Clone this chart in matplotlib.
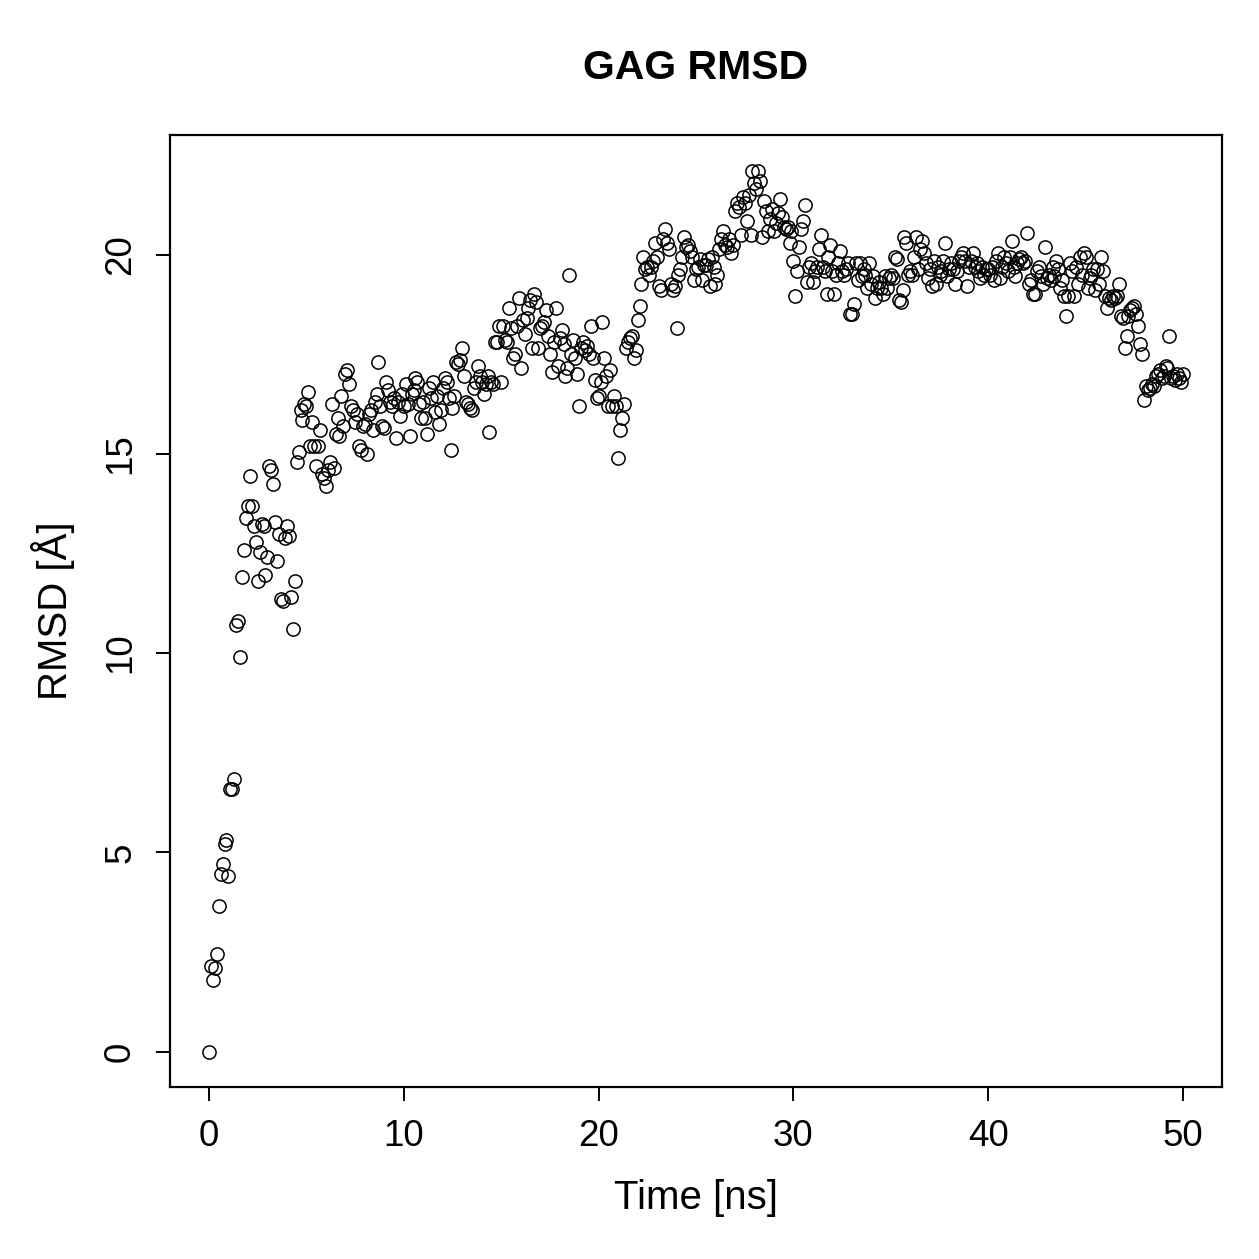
import numpy as np
import matplotlib
matplotlib.use("Agg")
import matplotlib.pyplot as plt

rmsd = [
    0.0, 2.15, 1.8, 2.1, 2.45, 3.65, 4.45, 4.7, 5.2, 5.3,
    4.4, 6.6, 6.6, 6.85, 10.7, 10.8, 9.9, 11.9, 12.6, 13.4,
    13.7, 14.45, 13.7, 13.2, 12.8, 11.8, 12.55, 13.25, 13.2, 11.95,
    12.4, 14.7, 14.6, 14.25, 13.3, 12.3, 13.0, 11.35, 11.3, 12.9,
    13.2, 12.95, 11.4, 10.6, 11.8, 14.8, 15.05, 16.1, 15.85, 16.25,
    16.2, 16.55, 15.2, 15.8, 15.2, 14.7, 15.2, 15.6, 14.5, 14.4,
    14.2, 14.6, 14.8, 16.25, 14.65, 15.5, 15.9, 15.45, 16.45, 15.7,
    17.0, 17.1, 16.75, 16.2, 16.1, 15.8, 16.0, 15.2, 15.1, 15.7,
    15.75, 15.0, 16.0, 16.1, 15.6, 16.3, 16.5, 17.3, 16.2, 15.7,
    15.65, 16.8, 16.6, 16.3, 16.2, 16.4, 15.4, 16.3, 15.95, 16.5,
    16.2, 16.75, 16.25, 15.45, 16.5, 16.6, 16.9, 16.8, 16.25, 15.9,
    16.3, 15.9, 15.5, 16.65, 16.4, 16.8, 16.05, 16.45, 15.75, 16.1,
    16.65, 16.9, 16.8, 16.4, 15.1, 16.15, 16.45, 17.3, 17.25, 17.35,
    17.65, 16.95, 16.3, 16.25, 16.15, 16.1, 16.65, 16.8, 17.2, 16.95,
    16.8, 16.5, 16.75, 16.95, 15.55, 16.8, 16.75, 17.8, 17.8, 18.2,
    16.8, 18.2, 17.85, 17.8, 18.65, 18.15, 17.4, 17.5, 18.2, 18.9,
    17.15, 18.35, 18.0, 18.4, 18.65, 18.85, 17.65, 19.0, 18.8, 17.65,
    18.15, 18.2, 18.3, 18.6, 17.95, 17.5, 17.05, 17.8, 18.65, 17.2,
    17.9, 18.1, 17.75, 16.95, 17.15, 19.5, 17.5, 17.85, 17.4, 17.0,
    16.2, 17.65, 17.8, 17.6, 17.7, 17.5, 18.2, 17.4, 16.85, 16.4,
    16.45, 16.8, 18.3, 17.4, 16.95, 16.2, 17.1, 16.2, 16.45, 16.2,
    14.9, 15.6, 15.9, 16.25, 17.65, 17.8, 17.9, 17.95, 17.4, 17.6,
    18.35, 18.7, 19.25, 19.95, 19.65, 19.7, 19.5, 19.7, 19.85, 20.3,
    19.95, 19.2, 19.1, 20.4, 20.65, 20.3, 20.15, 19.25, 19.1, 19.2,
    18.15, 19.5, 19.65, 19.95, 20.45, 20.2, 20.25, 20.1, 19.95, 19.35,
    19.65, 19.7, 19.9, 19.35, 19.75, 19.75, 19.9, 19.2, 19.95, 19.7,
    19.25, 19.5, 20.15, 20.4, 20.6, 20.25, 20.2, 20.4, 20.05, 20.25,
    21.1, 21.3, 21.2, 20.5, 21.45, 21.3, 20.85, 21.5, 20.5, 22.1,
    21.8, 21.65, 22.1, 21.85, 20.45, 21.35, 21.1, 20.6, 20.9, 21.15,
    20.6, 20.8, 21.05, 21.4, 20.95, 20.7, 20.65, 20.7, 20.3, 20.6,
    19.85, 18.95, 19.6, 20.2, 20.65, 20.85, 21.25, 19.3, 19.7, 19.8,
    19.3, 19.6, 19.7, 20.15, 20.5, 19.7, 19.6, 19.0, 19.95, 20.25,
    19.6, 19.0, 19.5, 19.8, 20.1, 19.6, 19.5, 19.65, 19.8, 18.5,
    18.5, 18.75, 19.8, 19.35, 19.8, 19.45, 19.65, 19.5, 19.15, 19.8,
    19.25, 19.45, 18.9, 19.15, 19.3, 19.15, 19.0, 19.45, 19.15, 19.4,
    19.5, 19.4, 19.95, 19.9, 18.85, 18.8, 19.1, 20.45, 20.3, 19.5,
    19.6, 19.5, 19.95, 20.45, 19.65, 20.15, 20.35, 20.05, 19.8, 19.4,
    19.65, 19.2, 19.85, 19.25, 19.7, 19.5, 19.6, 19.85, 20.3, 19.45,
    19.65, 19.8, 19.65, 19.25, 19.6, 19.85, 19.95, 20.05, 19.85, 19.2,
    19.7, 19.85, 20.05, 19.7, 19.8, 19.6, 19.4, 19.7, 19.5, 19.65,
    19.65, 19.5, 19.7, 19.35, 19.85, 20.05, 19.4, 19.7, 19.95, 19.8,
    19.6, 19.95, 20.35, 19.7, 19.45, 19.8, 19.9, 19.95, 19.8, 19.85,
    20.55, 19.25, 19.35, 19.0, 19.0, 19.6, 19.7, 19.45, 19.25, 20.2,
    19.4, 19.5, 19.35, 19.7, 19.45, 19.85, 19.65, 19.15, 19.35, 18.95,
    18.45, 18.95, 19.8, 19.6, 18.95, 19.7, 19.25, 19.95, 19.5, 20.05,
    19.95, 19.15, 19.4, 19.5, 19.65, 19.1, 19.65, 19.25, 19.95, 19.6,
    18.95, 18.65, 18.9, 18.85, 18.95, 18.9, 18.95, 19.25, 18.45, 18.4,
    17.65, 17.95, 18.45, 18.6, 18.65, 18.7, 18.5, 18.2, 17.75, 17.5,
    16.35, 16.7, 16.6, 16.65, 16.75, 16.7, 16.95, 17.0, 17.1, 16.9,
    16.95, 17.2, 17.15, 17.95, 16.9, 16.95, 16.85, 17.0, 16.9, 16.8,
    17.0,
]
time_ns = np.arange(len(rmsd)) * 0.1

x_ticks = [0, 10, 20, 30, 40, 50]
y_ticks = [0, 5, 10, 15, 20]

plt.rcParams['font.family'] = ['Liberation Sans', 'DejaVu Sans']

fig = plt.figure(figsize=(12.59, 12.59), dpi=100)
ax = fig.add_axes([170/1259, 1 - 1087/1259, (1222-170)/1259, (1087-135)/1259])

ax.plot(time_ns, rmsd, linestyle='none', marker='o', markersize=9.5,
        markerfacecolor='none', markeredgecolor='black', markeredgewidth=1.1)

ax.set_xlim(-2, 52)
ax.set_ylim(-0.885, 23.0)
ax.set_xticks(x_ticks)
ax.set_yticks(y_ticks)
ax.set_xticklabels([str(v) for v in x_ticks])
ax.set_yticklabels([str(v) for v in y_ticks], rotation=90, va='center')

for s in ax.spines.values():
    s.set_linewidth(1.6)
ax.tick_params(direction='out', length=10, width=1.4, labelsize=26.5, pad=13)

ax.set_xlabel('Time [ns]', fontsize=29, labelpad=18)
ax.set_ylabel('RMSD [Å]', fontsize=29, labelpad=20)
ax.set_title('GAG RMSD', fontsize=29.5, fontweight='bold', pad=40)

fig.savefig('out.png', dpi=100)
